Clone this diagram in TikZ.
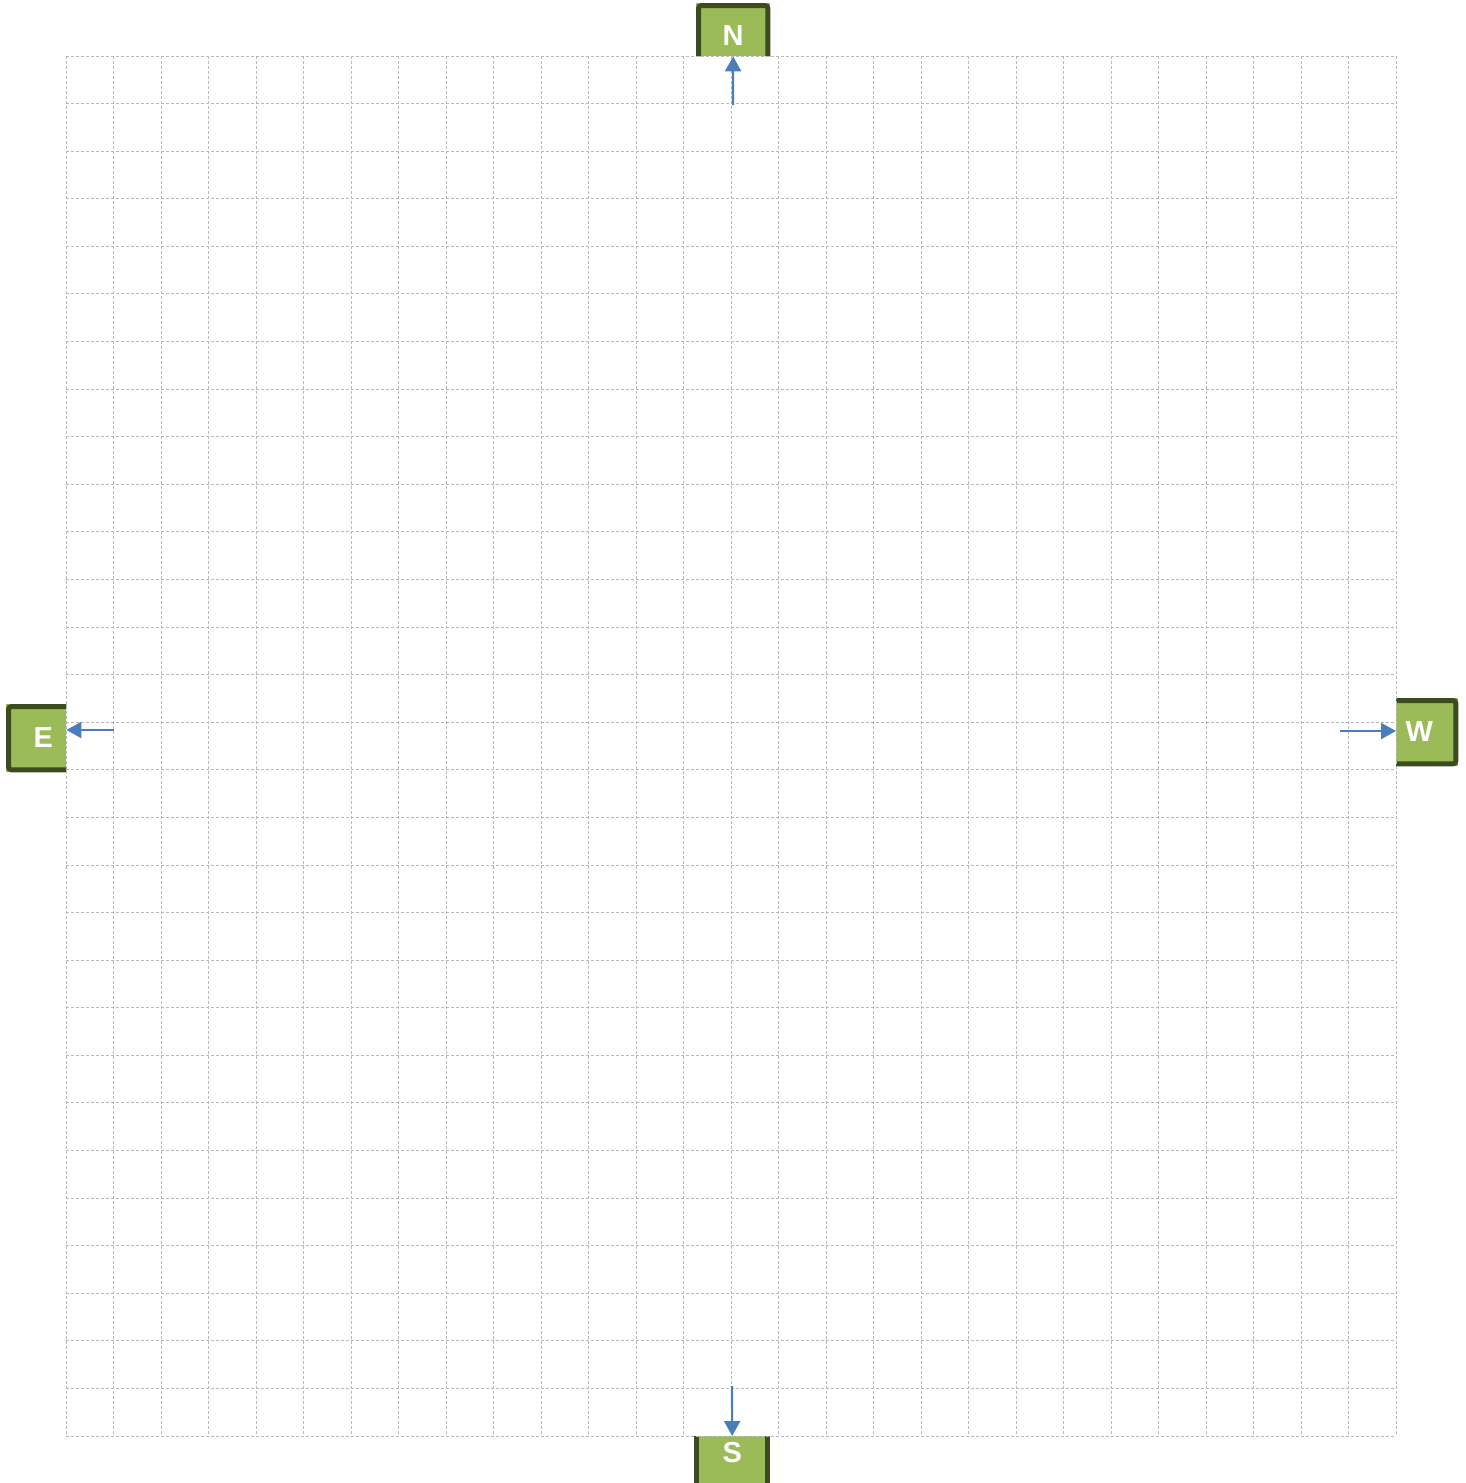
\documentclass[tikz,border=0pt]{standalone}
\usepackage{fontspec}
\setmainfont{Liberation Sans}
\usetikzlibrary{arrows.meta,calc}
\definecolor{boxfill}{HTML}{9BBB59}
\definecolor{boxline}{HTML}{3C4C1E}
\definecolor{arrowblue}{HTML}{4A7EBB}
\definecolor{gridgray}{HTML}{B8B8B8}
\tikzset{
 compass/.style={fill=boxfill, inner sep=0pt, text=white, font=\bfseries\fontsize{29}{31}\selectfont, anchor=north west},
 bord/.style={draw=boxline, line width=5pt, rounded corners=3pt},
 gridline/.style={draw=gridgray, line width=0.9pt, dash pattern=on 3pt off 2pt},
 arr/.style={draw=arrowblue, line width=2.2pt, -{Triangle[length=15pt,width=16pt]}},
}
\begin{document}
\begin{tikzpicture}[x=1pt,y=-1pt]
\useasboundingbox (0,0) rectangle (1466,1483);
\fill[white] (0,0) rectangle (1466,1483);
% boxes
\node[compass, minimum width=74pt, text height=42pt, text depth=11pt] (N) at (696,3) {N};
\node[compass, minimum width=60pt, text height=43pt, text depth=25pt] (E) at (6,704) {\hspace*{14pt}E};
\node[compass, minimum width=62pt, text height=43pt, text depth=25pt] (W) at (1396,698) {W\hspace*{16pt}};
\node[compass, minimum width=76pt, text height=26pt, text depth=30pt] (S) at (694,1436) {S};
\draw[bord] ([xshift=2.5pt]N.south west) |- ([xshift=-2.5pt,yshift=-2.5pt]N.north east) -- ([xshift=-2.5pt]N.south east);
\draw[bord] ([yshift=-2.5pt]E.north east) -| ([xshift=2.5pt,yshift=2.5pt]E.south west) -- ([yshift=2.5pt]E.south east);
\draw[bord] ([yshift=-2.5pt]W.north west) -| ([xshift=-2.5pt,yshift=2.5pt]W.south east) -- ([yshift=2.5pt]W.south west);
\draw[bord] ([xshift=2.5pt]S.north west) -- ([xshift=2.5pt]S.south west);
\draw[bord] ([xshift=-2.5pt]S.north east) -- ([xshift=-2.5pt]S.south east);
% grid
\foreach \i in {0,...,28} \draw[gridline] ({66+47.5*\i},56) -- ({66+47.5*\i},1436);
\foreach \j in {0,...,29} \draw[gridline] (66,{56+1380/29*\j}) -- (1396,{56+1380/29*\j});
% arrows
\coordinate (nA) at (733,105);
\draw[arr] (nA) -- (N.south);
\coordinate (eA) at (114,730);
\draw[arr] (eA) -- (eA -| E.east);
\coordinate (wA) at (1340,731);
\draw[arr] (wA) -- (wA -| W.west);
\coordinate (sA) at (732,1386);
\draw[arr] (sA) -- (S.north);
\end{tikzpicture}
\end{document}
